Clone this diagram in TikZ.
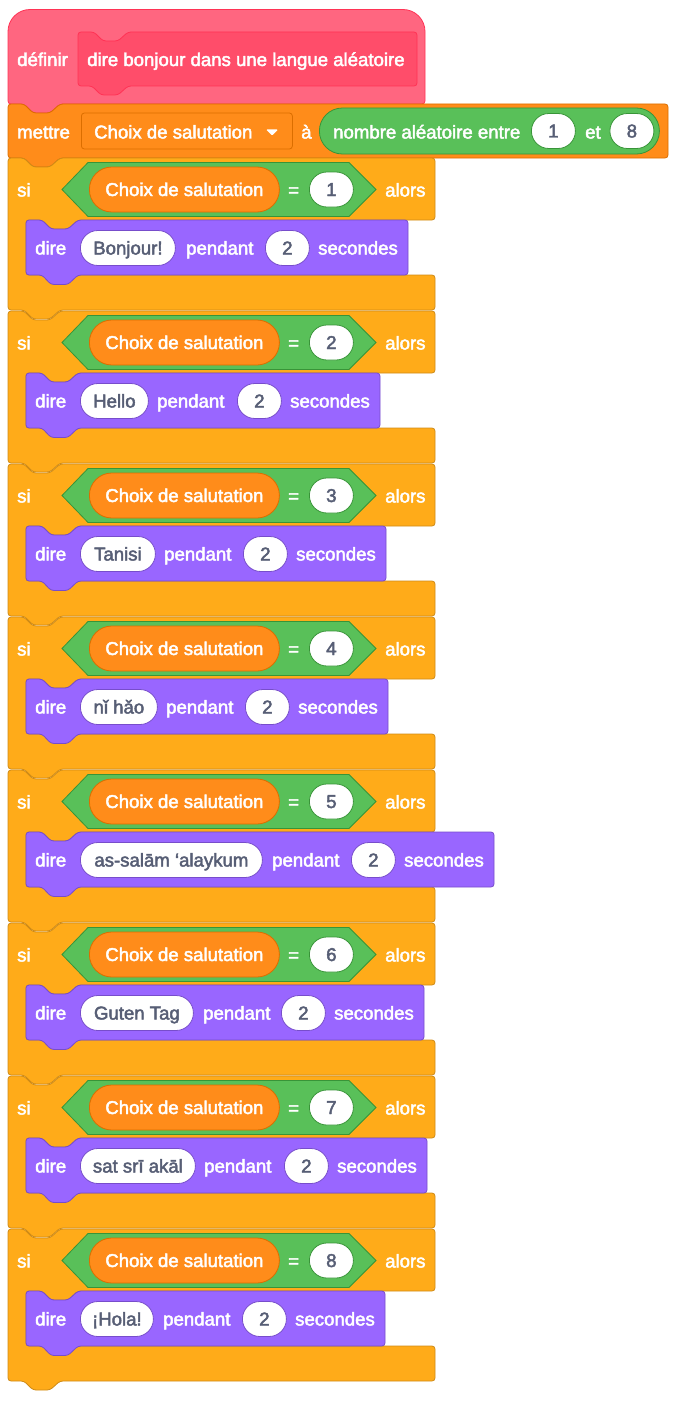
\documentclass[tikz,border=0pt]{standalone}
\usepackage{fontspec}
\setmainfont{Liberation Sans}[RawFeature={embolden=2.4}]
\usetikzlibrary{positioning}

\begin{document}
\begin{tikzpicture}[x=1pt, y=-1pt, font=\fontsize{18.6}{20}\selectfont]
        % Colours of the blocks
        \definecolor{hatpink}{HTML}{FF6680}
        \definecolor{hatline}{HTML}{FF3355}
        \definecolor{hatinner}{HTML}{FF4D6A}
        \definecolor{varorange}{HTML}{FF8C1A}
        \definecolor{varline}{HTML}{DB6E00}
        \definecolor{ctrlyellow}{HTML}{FFAB19}
        \definecolor{ctrlline}{HTML}{CF8B17}
        \definecolor{opgreen}{HTML}{59C059}
        \definecolor{opline}{HTML}{389438}
        \definecolor{lookpurple}{HTML}{9966FF}
        \definecolor{lookline}{HTML}{774DCB}
        \definecolor{valtext}{HTML}{575E75}

        % Setup the style for the texts and the pills
        \tikzset{word style/.style={anchor=west, inner sep=0pt, text=white,
                                    text height=13pt, text depth=0pt}}
        \tikzset{pill style/.style={anchor=west, inner sep=0pt, text=valtext,
                                    minimum height=35pt,
                                    rounded corners=17.4pt,
                                    line width=0.8pt,
                                    draw=lookline,
                                    fill=white,
                                    text height=13pt, text depth=0pt}}
        \tikzset{value style/.style={pill style, minimum width=44pt}}
        \tikzset{choix style/.style={anchor=west, inner sep=0pt, text=white,
                                    minimum width=190pt,
                                    minimum height=45pt,
                                    rounded corners=22.4pt,
                                    line width=0.8pt,
                                    draw=varline,
                                    fill=varorange,
                                    text height=13pt, text depth=0pt}}
        % Setup the shapes of the blocks
        \tikzset{si block/.pic={
                \draw[rounded corners=3pt, line width=0.8pt, draw=ctrlline, fill=ctrlyellow]
                      (100,0) -- (427,0) -- (427,62) -- (70,62) -- (60,71) -- (43,71) -- (34,62)
                      -- (18,62) -- (18,117) -- (427,117) -- (427,152) -- (52,152) -- (42,161)
                      -- (25,161) -- (16,152) -- (0,152) -- (0,0) -- (16,0) -- (25,9) -- (42,9)
                      -- (52,0) -- cycle;
                \draw[line width=0.8pt, draw=opline, fill=opgreen]
                      (54,31.5) -- (80,4.5) -- (341,4.5) -- (368,31.5) -- (341,58.5) -- (80,58.5) -- cycle;
        }}
        \tikzset{pics/dire block/.style={code={
                \draw[rounded corners=3pt, line width=0.8pt, draw=lookline, fill=lookpurple]
                      (60,0) -- (#1,0) -- (#1,55) -- (52,55) -- (42,64.5) -- (25,64.5) -- (16,55)
                      -- (0,55) -- (0,0) -- (16,0) -- (25,9) -- (42,9) -- (52,0) -- cycle;
        }}}

        \useasboundingbox (0,0) rectangle (676,1402);

        % Draw the hat
        \draw[line width=0.8pt, draw=hatline, fill=hatpink]
              (8,40) [rounded corners=22pt] -- (8,9.5) -- (425,9.5) [rounded corners=3pt] -- (425,104)
              -- (60,104) -- (50,113) -- (33,113) -- (24,104) -- (8,104) -- cycle;
        \draw[rounded corners=3pt, line width=0.8pt, draw=hatline, fill=hatinner]
              (140,32) -- (417,32) -- (417,86) -- (128,86) -- (118,95) -- (101,95) -- (92,86)
              -- (78,86) -- (78,32) -- (94,32) -- (103,41) -- (118,41) -- (128,32) -- cycle;
        \node[word style] at (17,59.5) (definir) {définir};
        \node[word style] at (87,59.5) (bonjour) {dire bonjour dans une langue aléatoire};

        % Draw the variable block
        \draw[rounded corners=3pt, line width=0.8pt, draw=varline, fill=varorange]
              (100,104) -- (668,104) -- (668,158) -- (60,158) -- (50,167) -- (33,167) -- (24,158)
              -- (8,158) -- (8,104) -- (24,104) -- (33,113) -- (50,113) -- (60,104) -- cycle;
        \node[word style] at (17,132) (mettre) {mettre};
        \node[anchor=west, inner sep=0pt, minimum width=211pt, minimum height=36pt,
              rounded corners=3pt, line width=0.8pt, draw=varline, fill=varorange] at (81,131) (menu) {};
        \node[word style] at (94,132) (choix) {Choix de salutation};
        \fill[white, rounded corners=1pt] (266,129.5) -- (278,129.5) -- (272,135.5) -- cycle;
        \node[word style] at (301,132) (a) {à};
        \node[anchor=west, inner sep=0pt, minimum width=340pt, minimum height=46pt,
              rounded corners=22.9pt, line width=0.8pt, draw=opline, fill=opgreen] at (319,131) (nombre) {};
        \node[word style] at (333,132) (entre) {nombre aléatoire entre};
        \node[value style, draw=opline] at (531,131) (mini) {1};
        \node[word style] at (585,132) (et) {et};
        \node[value style, draw=opline] at (609.5,131) (maxi) {8};

        % Draw the first block
        \pic at (8,158) {si block};
        \node[word style] at (17,190) (si1) {si};
        \node[choix style] at (89,189.5) (choix1) {Choix de salutation};
        \node[word style] at (288,190) (egal1) {=};
        \node[value style, draw=opline] at (309,189.5) (val1) {1};
        \node[word style] at (385,190) (alors1) {alors};
        \pic at (26,220) {dire block=382};
        \node[word style] at (35,248) (dire1) {dire};
        \node[pill style, minimum width=95pt] at (80,248) (msg1) {Bonjour!};
        \node[word style] at (186,248) (pendant1) {pendant};
        \node[value style] at (265,248) (duree1) {2};
        \node[word style] at (318,248) (sec1) {secondes};

        % Draw the second block
        \pic at (8,311) {si block};
        \node[word style] at (17,343) (si2) {si};
        \node[choix style] at (89,342.5) (choix2) {Choix de salutation};
        \node[word style] at (288,343) (egal2) {=};
        \node[value style, draw=opline] at (309,342.5) (val2) {2};
        \node[word style] at (385,343) (alors2) {alors};
        \pic at (26,373) {dire block=354};
        \node[word style] at (35,401) (dire2) {dire};
        \node[pill style, minimum width=68pt] at (80,401) (msg2) {Hello};
        \node[word style] at (157,401) (pendant2) {pendant};
        \node[value style] at (237,401) (duree2) {2};
        \node[word style] at (290,401) (sec2) {secondes};

        % Draw the third block
        \pic at (8,464) {si block};
        \node[word style] at (17,496) (si3) {si};
        \node[choix style] at (89,495.5) (choix3) {Choix de salutation};
        \node[word style] at (288,496) (egal3) {=};
        \node[value style, draw=opline] at (309,495.5) (val3) {3};
        \node[word style] at (385,496) (alors3) {alors};
        \pic at (26,526) {dire block=360};
        \node[word style] at (35,554) (dire3) {dire};
        \node[pill style, minimum width=75pt] at (80,554) (msg3) {Tanisi};
        \node[word style] at (164,554) (pendant3) {pendant};
        \node[value style] at (243,554) (duree3) {2};
        \node[word style] at (296,554) (sec3) {secondes};

        % Draw the fourth block
        \pic at (8,617) {si block};
        \node[word style] at (17,649) (si4) {si};
        \node[choix style] at (89,648.5) (choix4) {Choix de salutation};
        \node[word style] at (288,649) (egal4) {=};
        \node[value style, draw=opline] at (309,648.5) (val4) {4};
        \node[word style] at (385,649) (alors4) {alors};
        \pic at (26,679) {dire block=362};
        \node[word style] at (35,707) (dire4) {dire};
        \node[pill style, minimum width=77pt] at (80,707) (msg4) {nǐ hǎo};
        \node[word style] at (166,707) (pendant4) {pendant};
        \node[value style] at (245,707) (duree4) {2};
        \node[word style] at (298,707) (sec4) {secondes};

        % Draw the fifth block
        \pic at (8,770) {si block};
        \node[word style] at (17,802) (si5) {si};
        \node[choix style] at (89,801.5) (choix5) {Choix de salutation};
        \node[word style] at (288,802) (egal5) {=};
        \node[value style, draw=opline] at (309,801.5) (val5) {5};
        \node[word style] at (385,802) (alors5) {alors};
        \pic at (26,832) {dire block=468};
        \node[word style] at (35,860) (dire5) {dire};
        \node[pill style, minimum width=182pt] at (80,860) (msg5) {as-salām ‘alaykum};
        \node[word style] at (272,860) (pendant5) {pendant};
        \node[value style] at (351,860) (duree5) {2};
        \node[word style] at (404,860) (sec5) {secondes};

        % Draw the sixth block
        \pic at (8,923) {si block};
        \node[word style] at (17,955) (si6) {si};
        \node[choix style] at (89,954.5) (choix6) {Choix de salutation};
        \node[word style] at (288,955) (egal6) {=};
        \node[value style, draw=opline] at (309,954.5) (val6) {6};
        \node[word style] at (385,955) (alors6) {alors};
        \pic at (26,985) {dire block=398};
        \node[word style] at (35,1013) (dire6) {dire};
        \node[pill style, minimum width=113pt] at (80,1013) (msg6) {Guten Tag};
        \node[word style] at (203,1013) (pendant6) {pendant};
        \node[value style] at (281,1013) (duree6) {2};
        \node[word style] at (334,1013) (sec6) {secondes};

        % Draw the seventh block
        \pic at (8,1076) {si block};
        \node[word style] at (17,1108) (si7) {si};
        \node[choix style] at (89,1107.5) (choix7) {Choix de salutation};
        \node[word style] at (288,1108) (egal7) {=};
        \node[value style, draw=opline] at (309,1107.5) (val7) {7};
        \node[word style] at (385,1108) (alors7) {alors};
        \pic at (26,1138) {dire block=401};
        \node[word style] at (35,1166) (dire7) {dire};
        \node[pill style, minimum width=115pt] at (80,1166) (msg7) {sat srī akāl};
        \node[word style] at (204,1166) (pendant7) {pendant};
        \node[value style] at (284,1166) (duree7) {2};
        \node[word style] at (337,1166) (sec7) {secondes};

        % Draw the last block
        \pic at (8,1229) {si block};
        \node[word style] at (17,1261) (si8) {si};
        \node[choix style] at (89,1260.5) (choix8) {Choix de salutation};
        \node[word style] at (288,1261) (egal8) {=};
        \node[value style, draw=opline] at (309,1260.5) (val8) {8};
        \node[word style] at (385,1261) (alors8) {alors};
        \pic at (26,1291) {dire block=359};
        \node[word style] at (35,1319) (dire8) {dire};
        \node[pill style, minimum width=73pt] at (80,1319) (msg8) {¡Hola!};
        \node[word style] at (163,1319) (pendant8) {pendant};
        \node[value style] at (242,1319) (duree8) {2};
        \node[word style] at (295,1319) (sec8) {secondes};
\end{tikzpicture}
\end{document}
